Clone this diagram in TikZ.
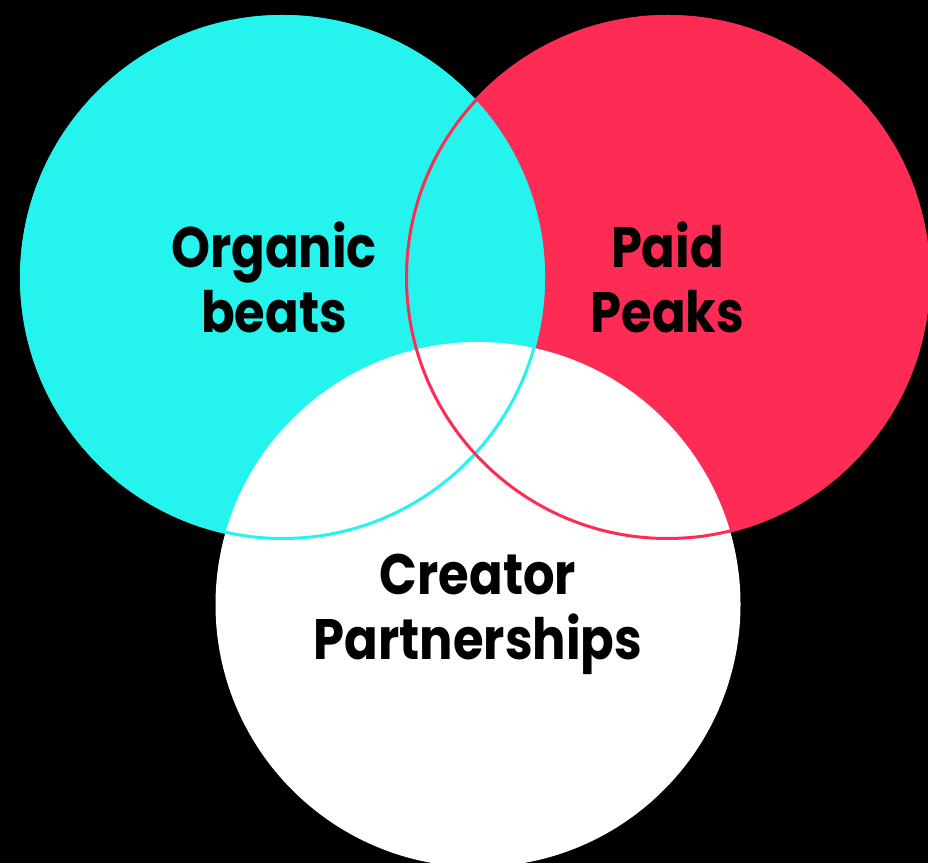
\documentclass[tikz,border=0pt]{standalone}
\usepackage{fontspec}
\setmainfont{Poppins}[FakeStretch=0.87]
\usetikzlibrary{positioning}
\definecolor{tkcyan}{RGB}{37,244,238}
\definecolor{tkred}{RGB}{254,44,85}
\tikzset{
    disc/.style={circle,inner sep=0pt,outer sep=0pt,minimum size=525pt},
    rim/.style={line width=3pt},
    setlabel/.style={align=center,font=\fontsize{57}{65}\selectfont\bfseries,text=black}
}
\begin{document}
\begin{tikzpicture}[x=1pt,y=1pt]
                \fill[black] (0,0) rectangle (928,863);
                \useasboundingbox (0,0) rectangle (928,863);

                \node[disc,fill=tkred]   (paid)    at (667.5,585.5) {};
                \node[disc,fill=tkcyan]  (organic) at (282.5,585.5) {};
                \node[disc,fill=white]   (creator) at (478,258.5)   {};

                \draw[rim,tkcyan] (organic) circle[radius=261pt];
                \draw[rim,tkred]  (paid)    circle[radius=261pt];

                \node[setlabel] (organiclabel) at ([xshift=-8.5pt]organic.center) {Organic\\beats};
                \node[setlabel] (paidlabel)    at (paid.center)                   {Paid\\Peaks};
                \node[setlabel] (creatorlabel) at ([yshift=-10pt]creator.center)  {Creator\\Partnerships};
\end{tikzpicture}
\end{document}
